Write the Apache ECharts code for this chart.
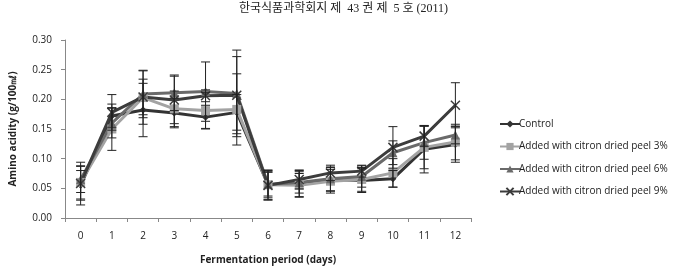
<!DOCTYPE html>
<html><head><meta charset="utf-8">
<script src="https://cdn.jsdelivr.net/npm/echarts@6/dist/echarts.min.js"></script>
<style>html,body{margin:0;padding:0;background:#fff}#c{width:687px;height:270px}</style>
</head><body><div id="c"></div>
<script>
const title = '한국식품과학회지 제  43 권 제  5 호 (2011)';
const days = ['0','1','2','3','4','5','6','7','8','9','10','11','12'];
const yTicks = [0, 0.05, 0.10, 0.15, 0.20, 0.25, 0.30];
const seriesNames = ['Control','Added with citron dried peel 3%','Added with citron dried peel 6%','Added with citron dried peel 9%'];
const control = [0.055, 0.172, 0.182, 0.177, 0.170, 0.178, 0.056, 0.058, 0.065, 0.063, 0.066, 0.116, 0.124];
const peel3   = [0.060, 0.150, 0.203, 0.184, 0.181, 0.183, 0.056, 0.055, 0.062, 0.065, 0.076, 0.119, 0.128];
const peel6   = [0.065, 0.160, 0.209, 0.211, 0.213, 0.210, 0.057, 0.060, 0.066, 0.070, 0.110, 0.127, 0.140];
const peel9   = [0.058, 0.178, 0.204, 0.199, 0.206, 0.207, 0.055, 0.065, 0.076, 0.079, 0.119, 0.138, 0.190];
const errControl = [0.025, 0.020, 0.045, 0.025, 0.020, 0.030, 0.025, 0.022, 0.020, 0.020, 0.014, 0.040, 0.030];
const err3       = [0.028, 0.036, 0.045, 0.030, 0.030, 0.060, 0.022, 0.020, 0.020, 0.020, 0.024, 0.036, 0.030];
const err6       = [0.022, 0.025, 0.040, 0.030, 0.050, 0.073, 0.020, 0.018, 0.020, 0.018, 0.020, 0.028, 0.015];
const err9       = [0.036, 0.030, 0.030, 0.040, 0.010, 0.065, 0.025, 0.016, 0.013, 0.010, 0.035, 0.017, 0.038];

const colors = ['#333333','#a3a3a3','#6a6a6a','#3c3c3c'];
const symbols = ['diamond','rect','triangle','path://M0,0 L10,10 M10,0 L0,10 M0,0 L10,10 Z'];
const symbolSizes = [7, 9, 9, 9];
const values = [control, peel3, peel6, peel9];
const errs = [errControl, err3, err6, err9];

const series = [];
values.forEach((v, i) => {
  series.push({
    name: seriesNames[i], type: 'line', data: v, z: 3,
    symbol: symbols[i], symbolSize: symbolSizes[i], showSymbol: true,
    lineStyle: {color: colors[i], width: 3},
    itemStyle: {color: colors[i], borderColor: colors[i], borderWidth: i === 3 ? 1.5 : 0},
    emphasis: {disabled: true}, animation: false
  });
});
values.forEach((v, i) => {
  series.push({
    type: 'custom', z: 4, animation: false, silent: true,
    data: v.map((y, k) => [k, y - errs[i][k], y + errs[i][k]]),
    renderItem: function (params, api) {
      const x = api.value(0);
      const lo = api.coord([x, api.value(1)]);
      const hi = api.coord([x, api.value(2)]);
      const w = 4.5;
      const st = {stroke: '#222', lineWidth: 1};
      return {type: 'group', children: [
        {type: 'line', shape: {x1: lo[0], y1: lo[1], x2: hi[0], y2: hi[1]}, style: st},
        {type: 'line', shape: {x1: lo[0]-w, y1: lo[1], x2: lo[0]+w, y2: lo[1]}, style: st},
        {type: 'line', shape: {x1: hi[0]-w, y1: hi[1], x2: hi[0]+w, y2: hi[1]}, style: st}
      ]};
    }
  });
});

const chart = echarts.init(document.getElementById('c'), null, {renderer: 'canvas'});
chart.setOption({
  animation: false,
  backgroundColor: '#fff',
  title: {text: title, left: 'center', top: -2,
    textStyle: {fontFamily: 'Liberation Serif, Noto Sans CJK KR', fontSize: 12, fontWeight: 'normal', color: '#222'}},
  grid: {left: 60, right: 216, top: 40, bottom: 48},
  legend: {
    orient: 'vertical', left: 494, top: 114, itemGap: 12.5, itemWidth: 20, itemHeight: 9,
    data: seriesNames,
    textStyle: {fontFamily: 'Open Sans', fontSize: 10, color: '#222', padding: [0,0,0,-6]}
  },
  xAxis: {
    type: 'category', data: days, boundaryGap: true,
    name: 'Fermentation period (days)', nameLocation: 'middle', nameGap: 37,
    nameTextStyle: {fontFamily: 'Open Sans', fontSize: 10, fontWeight: 'bold', color: '#222'},
    axisLine: {lineStyle: {color: '#888', width: 1}},
    axisTick: {show: true, alignWithLabel: false, length: 4, lineStyle: {color: '#888'}},
    axisLabel: {fontFamily: 'Open Sans', fontSize: 10, color: '#222', margin: 13}
  },
  yAxis: {
    type: 'value', min: 0, max: 0.30, interval: 0.05,
    name: 'Amino acidity (g/100㎖)', nameLocation: 'middle', nameGap: 47, nameRotate: 90,
    nameTextStyle: {fontFamily: 'Open Sans', fontSize: 10, fontWeight: 'bold', color: '#222'},
    axisLine: {show: true, lineStyle: {color: '#888', width: 1}},
    axisTick: {show: true, length: 4, lineStyle: {color: '#888'}},
    splitLine: {show: false},
    axisLabel: {fontFamily: 'Open Sans', fontSize: 10, color: '#222', margin: 13,
      formatter: v => yTicks.includes(Math.round(v*100)/100) ? v.toFixed(2) : ''}
  },
  series: series
});
</script></body></html>
